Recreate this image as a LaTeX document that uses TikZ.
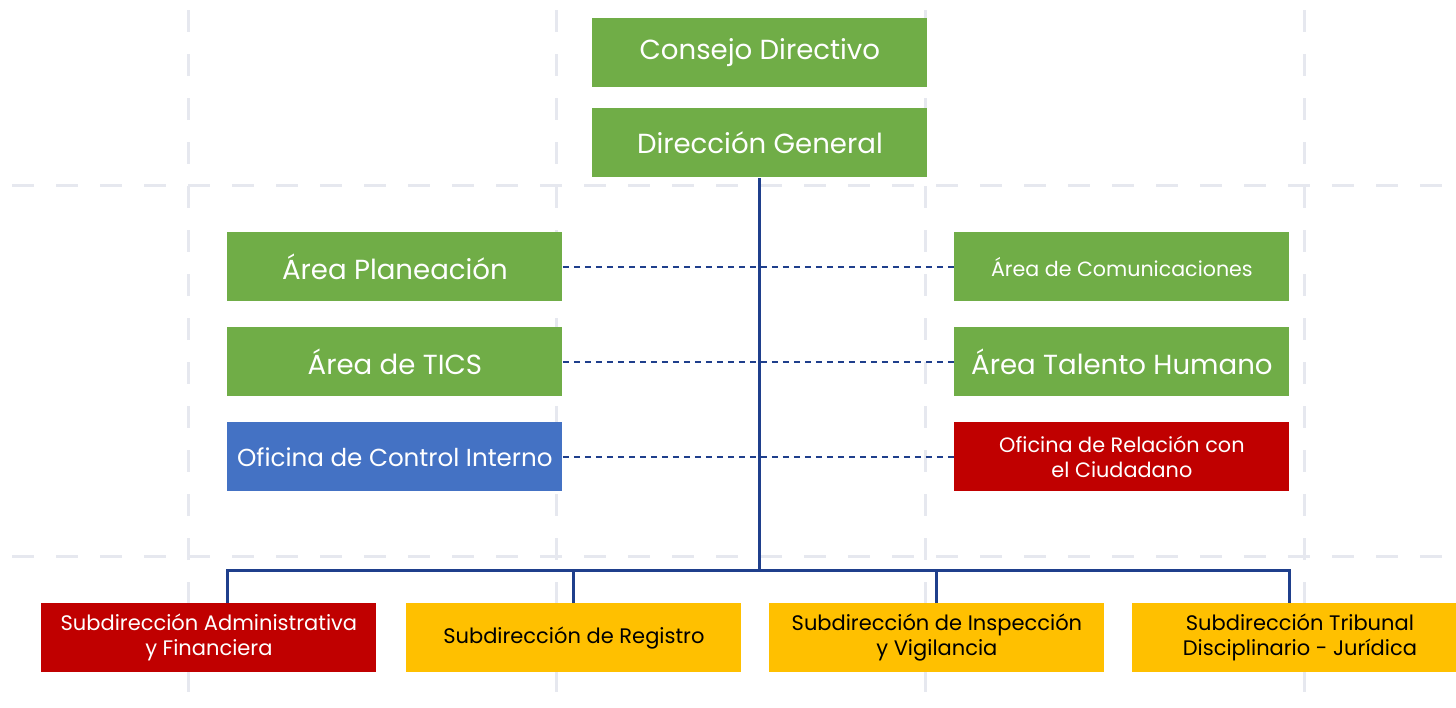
\documentclass[tikz,border=0pt]{standalone}
\usepackage{fontspec}
\setmainfont{Poppins}
\definecolor{verde}{HTML}{70AD47}
\definecolor{azul}{HTML}{4472C4}
\definecolor{rojo}{HTML}{C00000}
\definecolor{ambar}{HTML}{FFC000}
\definecolor{linea}{HTML}{1F3F8C}
\definecolor{rejilla}{HTML}{E6E8EF}

\begin{document}
\begin{tikzpicture}[x=0.5pt,y=-0.5pt,
caja/.style={%
anchor=north west,
minimum width=167.5pt,
minimum height=34.5pt,
inner sep=0pt,
align=center,
text=white,
fill=verde,
font=\fontsize{13.8}{15}\selectfont
},
sub/.style={%
caja,
fill=ambar,
text=black,
font=\fontsize{10.5}{12.5}\selectfont
},
grid/.style={%
rejilla,
line width=1.5pt,
dash pattern=on 11pt off 11pt
},
]
\useasboundingbox (0,0) rectangle (1456,707);
%% Rejilla de fondo
\foreach \y in {185,556}{%
\draw[grid] (12,\y)--(1456,\y);
}
\foreach \x in {188,556,925,1304}{%
\draw[grid] (\x,10)--(\x,707);
}
%% Direccion
\node[caja]at(592,18)(cd){Consejo Directivo};
\node[caja]at(592,108)(dg){Dirección General};
%% Areas izquierda
\node[caja]at(227,232)(pla){Área Planeación};
\node[caja]at(227,327)(tic){Área de TICS};
\node[caja,fill=azul,font=\fontsize{12.3}{14}\selectfont]at(227,422)(oci){Oficina de Control Interno};
%% Areas derecha
\node[caja,font=\fontsize{10.3}{12}\selectfont]at(954,232)(com){Área de Comunicaciones};
\node[caja]at(954,327)(tal){Área Talento Humano};
\node[caja,fill=rojo,font=\fontsize{10.4}{12.5}\selectfont]at(954,422)(orc){Oficina de Relación con\\el Ciudadano};
%% Subdirecciones
\node[sub,fill=rojo,text=white]at(41,603)(adm){Subdirección Administrativa\\y Financiera};
\node[sub]at(406,603)(reg){Subdirección de Registro};
\node[sub]at(769,603)(ins){Subdirección de Inspección\\y Vigilancia};
\node[sub]at(1132,603)(tri){Subdirección Tribunal\\Disciplinario - Jurídica};
%% Conectores
\coordinate (bus) at (758,570);
\draw[linea,line width=1.5pt] (dg.south)--(dg.south|-bus);
\draw[linea,line width=1.5pt] (pla.west|-adm.north)--(pla.west|-bus)--(com.east|-bus)--(com.east|-tri.north);
\foreach \n in {reg,ins}{%
\draw[linea,line width=1.5pt] (\n.north)--(\n.north|-bus);
}
\draw[linea,line width=1pt,dash pattern=on 3pt off 2.5pt] (pla)--(com);
\draw[linea,line width=1pt,dash pattern=on 3pt off 2.5pt] (tic)--(tal);
\draw[linea,line width=1pt,dash pattern=on 3pt off 2.5pt] (oci)--(orc);
\end{tikzpicture}
\end{document}
